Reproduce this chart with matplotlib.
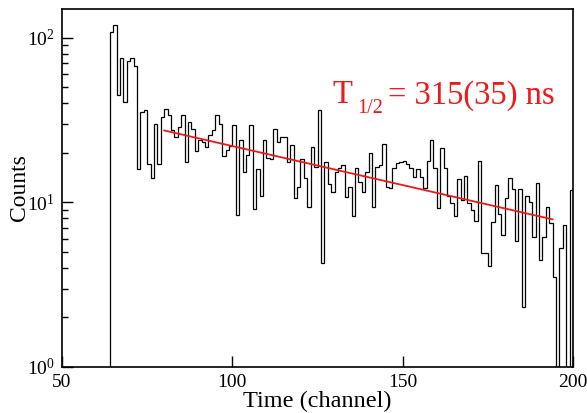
import matplotlib
matplotlib.use("Agg")
import matplotlib.pyplot as plt
from matplotlib.transforms import offset_copy
import numpy as np

plt.rcParams["font.family"] = ["Liberation Serif", "DejaVu Serif"]

# histogram: one count per channel, channels 64..199 (0 = empty bin)
first_channel = 64
counts = [
    108, 120, 45.3, 76, 41, 72.8, 75.6, 68, 16, 35.7,      # 64-73
    36.3, 17.1, 14.0, 29.8, 17.2, 33, 37.1, 34.1, 27.4, 25,  # 74-83
    28.7, 34, 17.7, 31, 28, 20.5, 24, 23.4, 21.7, 25.6,    # 84-93
    27.7, 34, 30, 19.2, 20.8, 22.2, 29.5, 8.4, 24, 15.3,   # 94-103
    19.4, 29.5, 9.1, 16, 10.9, 24, 18.6, 18.5, 28, 23.4,   # 104-113
    25, 25, 17.6, 22.5, 10.6, 12.4, 18.5, 14, 9.4, 21.7,   # 114-123
    16.4, 36.6, 4.3, 17.6, 12.9, 11.6, 15.3, 16.1, 16.8, 10.8,  # 124-133
    12.4, 8.3, 16.2, 13.3, 11.6, 15.3, 20.1, 9.4, 16.4, 16.8,   # 134-143
    22.8, 12.4, 12.2, 16.2, 17.4, 17.6, 17.8, 17.2, 16.2, 14.2,  # 144-153
    16, 14.2, 12.2, 17.9, 24.1, 16.1, 9.3, 21.5, 16.1, 10.9,     # 154-163
    9.9, 8.3, 13.8, 10.3, 14.4, 9.9, 9.0, 7.7, 17.9, 4.9,        # 164-173
    4.9, 4.1, 7.6, 12.7, 8.5, 6.3, 10.6, 14.0, 12.0, 5.8,        # 174-183
    12.0, 2.3, 10.9, 10.1, 6.2, 13.1, 4.5, 6.2, 9.4, 7.5,        # 184-193
    3.5, 0, 5.3, 7.3, 0, 11.9,                                   # 194-199
]

# exponential fit drawn in red
fit_start, fit_end = 80, 194
fit_amp = 27.4          # counts at fit_start
fit_half_life = 63.5    # channels

fig = plt.figure(figsize=(5.87, 4.13), dpi=100)
ax = fig.add_axes([62 / 587, 1 - 367 / 413, 511 / 587, 358 / 413])

vals = np.array(counts, dtype=float)
vals[vals <= 0] = 0.3  # empty bins drop below the axis
edges = np.arange(first_channel, first_channel + len(counts) + 1)
ax.stairs(vals, edges, baseline=0.3, color="black", lw=0.9)

tf = np.linspace(fit_start, fit_end, 200)
ax.plot(tf, fit_amp * np.exp(-np.log(2) * (tf - fit_start) / fit_half_life),
        color="#f01818", lw=1.3)

# T_{1/2} label, ROOT style with a low subscript
tx, ty = 129.4, 40
ax.text(tx, ty, "T", color="#f01818", fontsize=23.5, va="baseline")
ax.text(tx, ty, "1/2", color="#f01818", fontsize=14.5, va="baseline",
        transform=offset_copy(ax.transData, fig, x=25, y=-10, units="dots"))
ax.text(tx, ty, "= 315(35) ns", color="#f01818", fontsize=23.5, va="baseline",
        transform=offset_copy(ax.transData, fig, x=56, y=0, units="dots"))

ax.set_yscale("log")
ax.set_xlim(50, 200)
ax.set_ylim(1, 150)
ax.set_xticks([50, 100, 150, 200])
ax.tick_params(which="major", direction="in", length=8, width=1,
               labelsize=14, top=False, right=False, pad=5)
ax.tick_params(which="minor", direction="in", length=4.5, width=1,
               top=False, right=False)
ax.tick_params(axis="x", which="minor", bottom=False)
for s in ax.spines.values():
    s.set_linewidth(1.2)

ax.set_xlabel("Time (channel)", fontsize=17.5, labelpad=0)
ax.set_ylabel("Counts", fontsize=17, labelpad=-2)

fig.savefig("out.png", dpi=100)
